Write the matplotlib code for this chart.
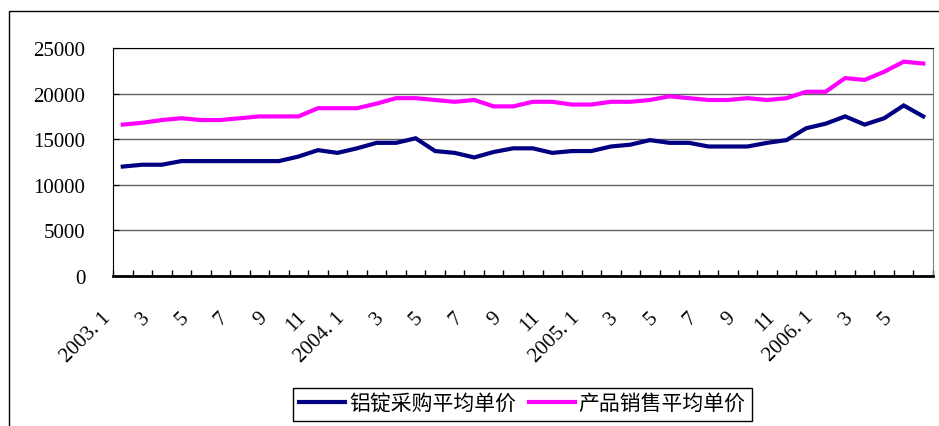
import numpy as np
import matplotlib.pyplot as plt
from matplotlib.patches import Rectangle
from matplotlib.transforms import ScaledTranslation

# monthly data 2003.1 - 2006.6
ingot = [12000, 12200, 12200, 12600, 12600, 12600, 12600, 12600, 12600, 13100,
         13800, 13500, 14000, 14600, 14600, 15100, 13700, 13500, 13000, 13600,
         14000, 14000, 13500, 13700, 13700, 14200, 14400, 14900, 14600, 14600,
         14200, 14200, 14200, 14600, 14900, 16200, 16700, 17500, 16600, 17300,
         18700, 17500]
product = [16600, 16800, 17100, 17300, 17100, 17100, 17300, 17500, 17500, 17500,
           18400, 18400, 18400, 18900, 19500, 19500, 19300, 19100, 19300, 18600,
           18600, 19100, 19100, 18800, 18800, 19100, 19100, 19300, 19700, 19500,
           19300, 19300, 19500, 19300, 19500, 20200, 20200, 21700, 21500, 22400,
           23500, 23300]

label_pos = [0, 2, 4, 6, 8, 10, 12, 14, 16, 18, 20, 22, 24, 26, 28, 30, 32, 34, 36, 38, 40]
labels = ['2003. 1', '3', '5', '7', '9', '11', '2004. 1', '3', '5', '7', '9', '11',
          '2005. 1', '3', '5', '7', '9', '11', '2006. 1', '3', '5']
yticks = [0, 5000, 10000, 15000, 20000, 25000]
names = ['铝锭采购平均单价', '产品销售平均单价']

serif = ['Liberation Serif', 'Noto Sans CJK SC']

fig = plt.figure(figsize=(9.39, 4.27), dpi=100)
ax = fig.add_axes([113/939, 1-277/427, (933-113)/939, (277-49)/427])

x = np.arange(len(ingot))
ax.plot(x, ingot, color='#000080', lw=3, label=names[0], solid_joinstyle='miter')
ax.plot(x, product, color='#FF00FF', lw=3, label=names[1], solid_joinstyle='miter')

ax.set_xlim(-0.5, len(ingot) - 0.5)
ax.set_ylim(0, 25000)
ax.set_yticks(yticks)
ax.set_yticklabels([str(v) for v in yticks], family=serif, fontsize=15)
ax.yaxis.grid(True, color='#606060', lw=1)
ax.set_axisbelow(True)

ax.set_xticks(np.arange(-0.5, len(ingot)), minor=False)
ax.set_xticklabels([])
ax.set_xticks(label_pos, minor=True)
ax.set_xticklabels(labels, minor=True, rotation=45, ha='right', va='top',
                   family=serif, fontsize=15)
ax.tick_params(axis='x', which='major', direction='in', length=4, width=1)
ax.tick_params(axis='x', which='minor', length=0, pad=14)
ax.tick_params(axis='y', direction='in', length=4, pad=20)

# nudge the slanted labels down-left like the original
shift = ScaledTranslation(-8/100, -12/100, fig.dpi_scale_trans)
for t in ax.get_xticklabels(minor=True):
    t.set_transform(t.get_transform() + shift)

for s in ['top', 'left']:
    ax.spines[s].set_color('black')
ax.spines['right'].set_color('#808080')
ax.spines['bottom'].set_linewidth(2)

leg = fig.legend(loc='upper left', bbox_to_anchor=(293/939, 1-389/427), ncol=2,
                 frameon=True, fancybox=False, edgecolor='black', framealpha=1,
                 borderaxespad=0, handlelength=2.2, handletextpad=0.2,
                 columnspacing=0.6, borderpad=0.3,
                 prop={'family': serif, 'size': 15})
leg.get_frame().set_linewidth(1)

# outer chart frame
fig.patches.append(Rectangle((9/939, -0.2), 1.2, 1.2 - 12/427,
                             transform=fig.transFigure, fill=False,
                             edgecolor='black', lw=1))

fig.savefig('out.png', dpi=100)
